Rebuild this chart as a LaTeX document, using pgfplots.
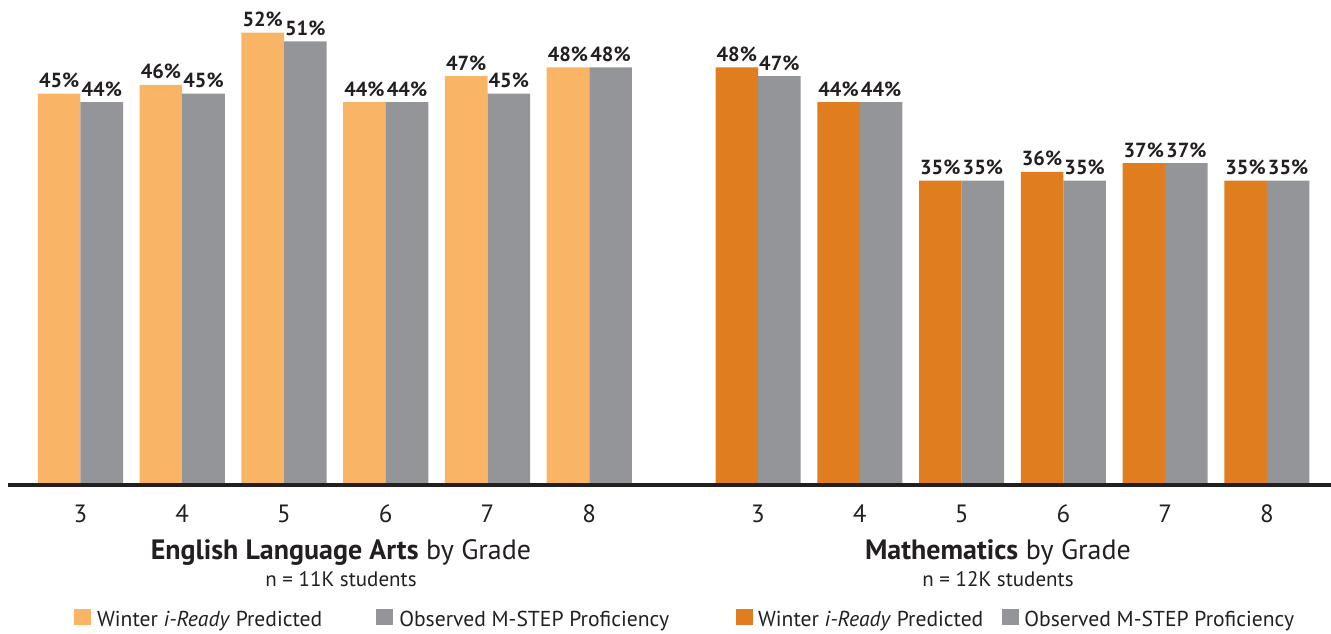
\documentclass[border=0pt]{standalone}
\usepackage{fontspec}
\setmainfont{PT Sans}
\usepackage{pgfplots}
\pgfplotsset{compat=1.18}
\definecolor{lorange}{HTML}{F9B466}
\definecolor{dorange}{HTML}{E07D1E}
\definecolor{cgray}{HTML}{939598}
\definecolor{txt}{HTML}{231F20}
\pgfplotsset{
 base/.style={
  at={(0,0)}, anchor=south west, scale only axis,
  width=661.5pt, height=242.5pt,
  xmin=-0.7125, xmax=12.290, ymin=0, ymax=55.75,
  clip=false,
  ybar, bar width=0.418,
  /pgf/number format/assume math mode=true,
  nodes near coords={\pgfmathprintnumber{\pgfplotspointmeta}\%},
  every node near coord/.append style={font=\fontsize{10.2pt}{12pt}\selectfont\bfseries, text=txt, anchor=base, inner sep=0pt, yshift=3pt},
  legend columns=2,
  legend style={draw=none, fill=none, inner sep=0pt, outer sep=0pt,
     font=\fontsize{10.8pt}{12pt}\selectfont, text=txt,
     nodes={inner sep=0pt}},
 }
}
\begin{document}
\begin{tikzpicture}
\path[use as bounding box] (-4pt,-74pt) rectangle (661.5pt,242.5pt);
% Mathematics
\begin{axis}[base, hide axis,
  legend image code/.code={\fill[#1] (0pt,-2.3pt) rectangle (8.5pt,5.7pt);},
  legend style={at={(0.5503,-0.2763)}, anchor=west,
    /tikz/every odd column/.append style={column sep=2.5pt},
    /tikz/every even column/.append style={column sep=9.5pt}}]
\addplot[fill=dorange, draw=none, bar shift=-0.209] coordinates {(6.659,48) (7.659,44) (8.659,35) (9.659,36) (10.659,37) (11.659,35)};
\addplot[fill=cgray, draw=none, bar shift=0.209] coordinates {(6.659,47) (7.659,44) (8.659,35) (9.659,35) (10.659,37) (11.659,35)};
\legend{Winter \textit{i-Ready} Predicted, Observed M-STEP Proficiency}
\end{axis}
% English Language Arts
\begin{axis}[base, axis on top,
  axis x line=bottom, axis y line=none,
  x axis line style={-, line width=1.65pt, draw=txt},
  xtick={0,1,2,3,4,5,6.659,7.659,8.659,9.659,10.659,11.659},
  xticklabels={3,4,5,6,7,8,3,4,5,6,7,8},
  xtick style={draw=none},
  xticklabel style={anchor=base, yshift=-16.5pt, font=\fontsize{12.5pt}{14pt}\selectfont, text=txt},
  legend image code/.code={\fill[#1] (0pt,-2.3pt) rectangle (8.5pt,5.7pt);},
  legend style={at={(0.0499,-0.2763)}, anchor=west,
    /tikz/every odd column/.append style={column sep=3pt},
    /tikz/every even column/.append style={column sep=27pt}}]
\addplot[fill=lorange, draw=none, bar shift=-0.209] coordinates {(0,45) (1,46) (2,52) (3,44) (4,47) (5,48)};
\addplot[fill=cgray, draw=none, bar shift=0.209] coordinates {(0,44) (1,45) (2,51) (3,44) (4,45) (5,48)};
\legend{Winter \textit{i-Ready} Predicted, Observed M-STEP Proficiency}
\node[anchor=base, inner sep=0pt, text=txt, font=\fontsize{14pt}{16pt}\selectfont] at (axis cs:2.56,0) [yshift=-37pt] {\textbf{English Language Arts} by Grade};
\node[anchor=base, inner sep=0pt, text=txt, font=\fontsize{10.5pt}{12pt}\selectfont] at (axis cs:2.56,0) [yshift=-50.5pt] {n = 11K students};
\node[anchor=base, inner sep=0pt, text=txt, font=\fontsize{14pt}{16pt}\selectfont] at (axis cs:9.017,0) [yshift=-37pt] {\textbf{Mathematics} by Grade};
\node[anchor=base, inner sep=0pt, text=txt, font=\fontsize{10.5pt}{12pt}\selectfont] at (axis cs:9.017,0) [yshift=-50.5pt] {n = 12K students};
\end{axis}
\end{tikzpicture}
\end{document}
